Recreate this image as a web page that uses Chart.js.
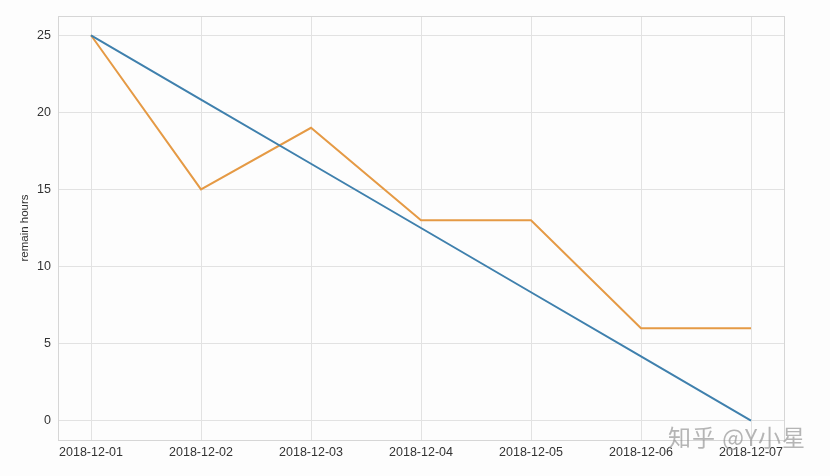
<!DOCTYPE html>
<html>
<head>
<meta charset="utf-8">
<script src="https://cdn.jsdelivr.net/npm/chart.js@4"></script>
<style>
  html, body { margin: 0; padding: 0; background: #fdfdfd; }
  #wrap { position: relative; width: 830px; height: 476px; }
  #mark {
    position: absolute; left: 668px; top: 419px;
    font-family: "Noto Sans CJK SC", sans-serif; font-size: 23px;
    color: rgba(150, 150, 150, 0.7); letter-spacing: 1px; white-space: nowrap;
  }
</style>
</head>
<body>
<div id="wrap">
  <canvas id="burndown" width="830" height="476"></canvas>
  <div id="mark">知乎 @Y小星</div>
</div>
<script>
// dates on the x axis
const dates = ["2018-12-01", "2018-12-02", "2018-12-03", "2018-12-04", "2018-12-05", "2018-12-06", "2018-12-07"];
// ideal burndown and actual remaining hours
const idealHours = [25, 20.833, 16.667, 12.5, 8.333, 4.167, 0];
const actualHours = [25, 15, 19, 13, 13, 6, 6];
const yTicks = [0, 5, 10, 15, 20, 25];

const toPoints = (vals) => vals.map((v, i) => ({ x: i, y: v }));

// light box round the plot area, like matplotlib's axes frame
const frame = {
  id: "frame",
  beforeDatasetsDraw(chart) {
    const { ctx, chartArea: a } = chart;
    ctx.save();
    ctx.strokeStyle = "#d6d6d6";
    ctx.lineWidth = 1;
    ctx.strokeRect(a.left + 0.5, a.top + 0.5, a.right - a.left, a.bottom - a.top);
    ctx.restore();
  }
};

const tickFont = { family: "Liberation Sans", size: 12.5 };

const ctx = document.getElementById("burndown").getContext("2d");
new Chart(ctx, {
  type: "line",
  data: {
    datasets: [
      {
        data: toPoints(idealHours),
        borderColor: "#3f80ad",
        borderWidth: 2,
        pointRadius: 0,
        tension: 0,
      },
      {
        data: toPoints(actualHours),
        borderColor: "#e59a45",
        borderWidth: 2,
        pointRadius: 0,
        tension: 0,
      },
    ],
  },
  plugins: [frame],
  options: {
    responsive: false,
    animation: false,
    layout: { padding: { top: 16, right: 46, left: 0, bottom: 0 } },
    plugins: {
      legend: { display: false },
      tooltip: { enabled: false },
    },
    scales: {
      x: {
        type: "linear",
        min: -0.3,
        max: 6.3,
        afterBuildTicks: (scale) => { scale.ticks = dates.map((d, i) => ({ value: i })); },
        afterFit: (scale) => { scale.height = 36; },
        grid: { color: "#e2e2e2", drawTicks: false },
        border: { display: false },
        ticks: {
          padding: 5,
          maxRotation: 0,
          autoSkip: false,
          color: "#333",
          font: tickFont,
          callback: (v) => dates[v],
        },
      },
      y: {
        min: -1.25,
        max: 26.25,
        afterBuildTicks: (scale) => { scale.ticks = yTicks.map((v) => ({ value: v })); },
        afterFit: (scale) => { scale.width = 58; },
        grid: { color: "#e2e2e2", drawTicks: false },
        border: { display: false },
        title: {
          display: true,
          text: "remain hours",
          color: "#333",
          font: { family: "Liberation Sans", size: 11.5 },
          padding: { top: 18, bottom: 0 },
        },
        ticks: {
          padding: 7,
          color: "#333",
          font: tickFont,
        },
      },
    },
  },
});
</script>
</body>
</html>
